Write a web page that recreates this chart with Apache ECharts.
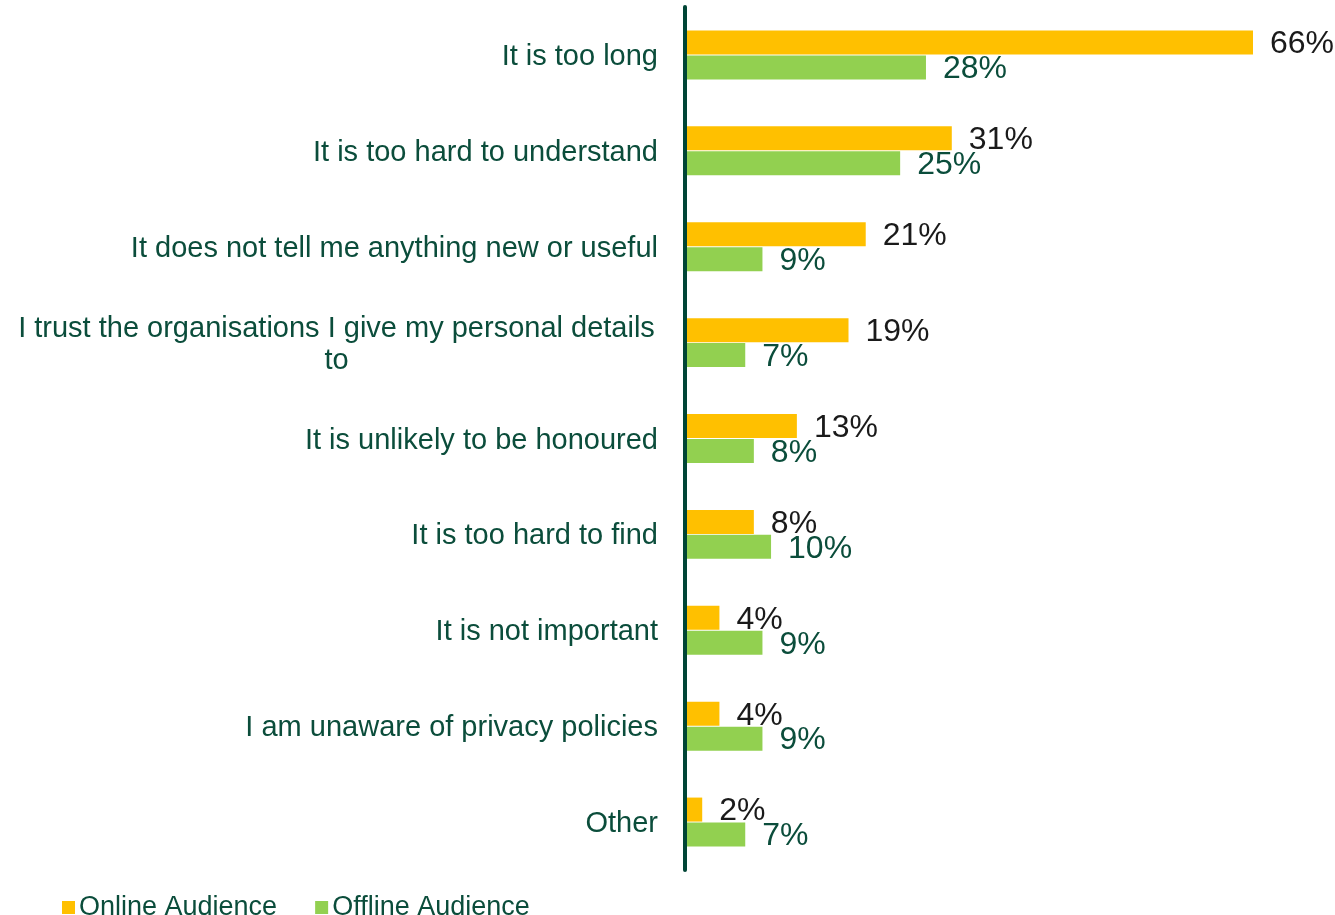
<!DOCTYPE html>
<html>
<head>
<meta charset="utf-8">
<script src="https://cdn.jsdelivr.net/npm/echarts@6/dist/echarts.min.js"></script>
<style>
  html, body { margin: 0; padding: 0; background: #fff; }
  #chart { width: 1335px; height: 915px; }
</style>
</head>
<body>
<div id="chart"></div>
<script>
const categories = [
  'It is too long',
  'It is too hard to understand',
  'It does not tell me anything new or useful',
  'I trust the organisations I give my personal details to',
  'It is unlikely to be honoured',
  'It is too hard to find',
  'It is not important',
  'I am unaware of privacy policies',
  'Other'
]
const onlineAudience = [66, 31, 21, 19, 13, 8, 4, 4, 2]
const offlineAudience = [28, 25, 9, 7, 8, 10, 9, 9, 7]

const darkGreen = '#0b4d3b'

let chart = echarts.init(document.getElementById('chart'))
let option = {
  animation: false,
  textStyle: { fontFamily: 'Liberation Sans, Arial, sans-serif' },
  legend: {
    left: 57,
    top: 889,
    itemWidth: 13,
    itemHeight: 13,
    itemGap: 38,
    icon: 'rect',
    textStyle: { color: darkGreen, fontSize: 27, padding: [0, 0, 0, -1] }
  },
  grid: {
    left: 685,
    right: 82,
    top: 7,
    bottom: 45
  },
  xAxis: {
    type: 'value',
    min: 0,
    max: 66,
    show: false
  },
  yAxis: {
    type: 'category',
    inverse: true,
    z: 5,
    data: categories,
    axisLine: { lineStyle: { color: '#004536', width: 4 } },
    axisTick: { show: false },
    axisLabel: {
      margin: 27,
      fontSize: 29,
      color: darkGreen,
      lineHeight: 32,
      padding: [4, 0, 0, 0],
      formatter: function (v) {
        if (v.length > 45) {
          let cut = v.lastIndexOf(' ')
          return '{w|' + v.slice(0, cut) + '}\n{w|' + v.slice(cut + 1) + '}'
        }
        return v
      },
      rich: {
        w: { width: 643, align: 'center', fontSize: 29, color: darkGreen, lineHeight: 32 }
      }
    }
  },
  series: [
    {
      name: 'Online Audience',
      type: 'bar',
      data: onlineAudience,
      barWidth: 24,
      barGap: '4%',
      itemStyle: { color: '#ffc000' },
      label: {
        show: true,
        position: 'right',
        distance: 17,
        fontSize: 32,
        color: '#1a1a1a',
        offset: [0, 2],
        formatter: '{c}%'
      }
    },
    {
      name: 'Offline Audience',
      type: 'bar',
      data: offlineAudience,
      barWidth: 24,
      itemStyle: { color: '#92d050' },
      label: {
        show: true,
        position: 'right',
        distance: 17,
        fontSize: 32,
        color: darkGreen,
        offset: [0, 2],
        formatter: '{c}%'
      }
    }
  ]
}
chart.setOption(option)

window.addEventListener('resize', () => {
  chart.resize()
})
</script>
</body>
</html>
